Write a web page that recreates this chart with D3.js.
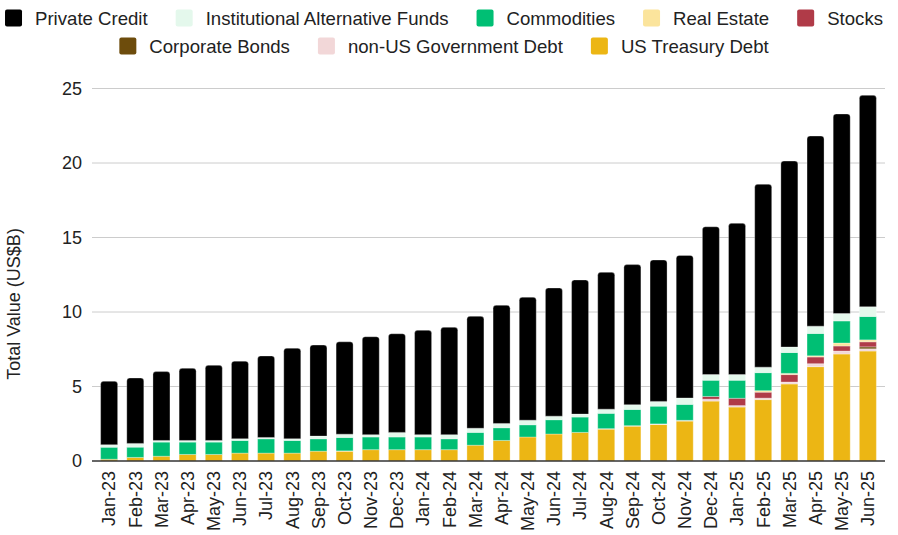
<!DOCTYPE html>
<html>
<head>
<meta charset="utf-8">
<script src="https://cdn.jsdelivr.net/npm/d3@7/dist/d3.min.js"></script>
<style>
  body { margin: 0; background: #fff; }
  text { font-family: "Liberation Sans", Arial, sans-serif; fill: #222; }
</style>
</head>
<body>
<svg id="chart" width="898" height="535"></svg>
<script>
// months on the x axis
var months = ["Jan-23","Feb-23","Mar-23","Apr-23","May-23","Jun-23","Jul-23","Aug-23","Sep-23","Oct-23",
  "Nov-23","Dec-23","Jan-24","Feb-24","Mar-24","Apr-24","May-24","Jun-24","Jul-24","Aug-24",
  "Sep-24","Oct-24","Nov-24","Dec-24","Jan-25","Feb-25","Mar-25","Apr-25","May-25","Jun-25"];

// series values, US$B
var usTreasury   = [0.12,0.24,0.32,0.44,0.44,0.53,0.53,0.53,0.66,0.66,0.76,0.76,0.76,0.76,1.06,1.38,1.61,1.81,1.92,2.14,2.34,2.45,2.68,4.02,3.62,4.12,5.17,6.33,7.18,7.38];
var nonUsGov     = [0,0,0,0,0,0,0,0,0,0.02,0,0,0,0,0,0,0,0,0,0.03,0.03,0.04,0.05,0.13,0.10,0.10,0.13,0.20,0.20,0.15];
var corpBonds    = [0,0,0,0,0,0,0,0,0,0,0,0,0,0,0,0,0,0,0,0,0,0,0,0,0,0,0,0,0,0.13];
var stocks       = [0,0,0,0,0,0,0,0,0,0,0,0,0,0,0,0,0,0,0,0,0,0,0,0.18,0.49,0.40,0.50,0.45,0.34,0.34];
var realEstate   = [0,0,0,0,0,0,0,0,0,0,0,0,0,0,0,0,0,0,0,0,0,0,0,0,0,0.10,0.08,0.08,0.20,0.13];
var commodities  = [0.81,0.69,0.95,0.83,0.83,0.85,0.96,0.85,0.83,0.90,0.85,0.85,0.85,0.73,0.86,0.85,0.82,0.96,1.03,1.03,1.09,1.19,1.07,1.09,1.21,1.21,1.40,1.50,1.48,1.57];
var instAltFunds = [0.16,0.25,0.11,0.11,0.11,0.11,0.09,0.11,0.18,0.22,0.16,0.31,0.16,0.28,0.28,0.29,0.31,0.24,0.20,0.28,0.32,0.32,0.43,0.38,0.38,0.37,0.37,0.49,0.50,0.65];
var privateCredit= [4.26,4.39,4.62,4.84,5.04,5.21,5.47,6.08,6.11,6.20,6.57,6.62,7.00,7.20,7.51,7.93,8.25,8.60,9.00,9.18,9.40,9.49,9.57,9.92,10.15,12.27,12.48,12.76,13.39,14.19];

var yTicks = [0,5,10,15,20,25];

// stack order, bottom to top
var seriesNames = ["US Treasury Debt","non-US Government Debt","Corporate Bonds","Stocks",
  "Real Estate","Commodities","Institutional Alternative Funds","Private Credit"];
var seriesValues = [usTreasury, nonUsGov, corpBonds, stocks, realEstate, commodities, instAltFunds, privateCredit];
var seriesColors = ["#ecb614","#f2d7d8","#6d4c0c","#b03b48","#fbe49c","#00bf74","#e4f8ec","#000000"];

// legend rows as in the picture
var legendRows = [
  ["Private Credit","Institutional Alternative Funds","Commodities","Real Estate","Stocks"],
  ["Corporate Bonds","non-US Government Debt","US Treasury Debt"]
];

var svg = d3.select("#chart");

var rows = months.map(function(m, i) {
  var r = {month: m};
  seriesNames.forEach(function(s, j) { r[s] = seriesValues[j][i]; });
  return r;
});
var color = d3.scaleOrdinal().domain(seriesNames).range(seriesColors);
var stacked = d3.stack().keys(seriesNames)(rows);

var x = d3.scaleBand().domain(months).range([92, 885]).paddingInner(0.35).paddingOuter(0.33);
var y = d3.scaleLinear().domain([0, 25]).range([461, 88.5]);

// gridlines
svg.append("g").selectAll("line").data(yTicks.slice(1)).enter().append("line")
  .attr("x1", 92).attr("x2", 885)
  .attr("y1", function(d) { return y(d); }).attr("y2", function(d) { return y(d); })
  .attr("stroke", "#cccccc").attr("stroke-width", 1);

// y axis labels
var yAxis = d3.axisLeft(y).tickValues(yTicks).tickSize(0).tickPadding(10);
var ya = svg.append("g").attr("transform", "translate(92,0)").call(yAxis);
ya.select(".domain").remove();
ya.selectAll("text").attr("font-size", "18px").style("font-family", "'Liberation Sans', Arial, sans-serif").attr("fill", "#222");

// bars
function topRounded(x0, y0, w, h, r) {
  r = Math.min(r, h, w / 2);
  return "M" + x0 + "," + (y0 + h) + "V" + (y0 + r) +
    "Q" + x0 + "," + y0 + " " + (x0 + r) + "," + y0 +
    "H" + (x0 + w - r) + "Q" + (x0 + w) + "," + y0 + " " + (x0 + w) + "," + (y0 + r) +
    "V" + (y0 + h) + "Z";
}

var layer = svg.append("g").selectAll("g").data(stacked).enter().append("g")
  .attr("fill", function(d) { return color(d.key); });

layer.selectAll("path")
  .data(function(d) { return d.map(function(p) { p.key = d.key; return p; }).filter(function(p) { return p[1] - p[0] > 0; }); })
  .enter().append("path")
  .attr("d", function(p) {
    var x0 = x(p.data.month), w = x.bandwidth();
    var yt = y(p[1]), h = y(p[0]) - y(p[1]);
    if (p.key === "Private Credit") return topRounded(x0, yt, w, h, 3);
    return "M" + x0 + "," + yt + "h" + w + "v" + h + "h" + (-w) + "Z";
  })
  .attr("stroke", "#ffffff").attr("stroke-opacity", 0.3).attr("stroke-width", 1);

// baseline
svg.append("line").attr("x1", 92).attr("x2", 885).attr("y1", y(0)).attr("y2", y(0))
  .attr("stroke", "#333").attr("stroke-width", 1.5);

// x labels, rotated
svg.append("g").selectAll("text").data(months).enter().append("text")
  .attr("transform", function(d) { return "translate(" + (x(d) + x.bandwidth() / 2) + ",471) rotate(-90)"; })
  .attr("text-anchor", "end")
  .attr("dy", "0.35em")
  .attr("font-size", "18px")
  .text(function(d) { return d; });

// y axis title
svg.append("text")
  .attr("transform", "translate(14,304) rotate(-90)")
  .attr("text-anchor", "middle")
  .attr("dy", "0.35em")
  .attr("font-size", "18px")
  .text("Total Value (US$B)");

// legend
var legendY = [18, 46];
legendRows.forEach(function(row, ri) {
  var g = svg.append("g");
  var cx = 0;
  row.forEach(function(name) {
    var it = g.append("g").attr("transform", "translate(" + cx + ",0)");
    it.append("rect").attr("x", 0).attr("y", legendY[ri] - 8.5).attr("width", 17).attr("height", 17)
      .attr("rx", 2).attr("fill", color(name));
    var t = it.append("text").attr("x", 30).attr("y", legendY[ri]).attr("dy", "0.35em")
      .attr("font-size", "18.6px").text(name);
    cx += 30 + t.node().getComputedTextLength() + 28;
  });
  var total = cx - 28;
  g.attr("transform", "translate(" + (444 - total / 2) + ",0)");
});
</script>
</body>
</html>
